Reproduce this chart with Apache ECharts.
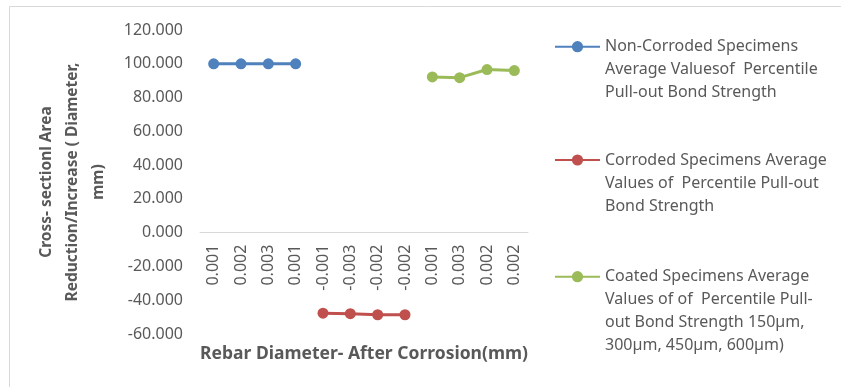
<!DOCTYPE html>
<html>
<head>
    <meta charset="utf-8" />
    <title>Pull-out Bond Strength</title>
    <script src="https://cdn.jsdelivr.net/npm/echarts@6.0.0/dist/echarts.min.js"></script>
    <style>
        * { margin: 0; padding: 0; box-sizing: border-box }
        body { background: #fff }
        #chart { width: 841px; height: 387px }
    </style>
</head>
<body>
    <div id="chart"></div>
    <script>
        const categories = ['0.001', '0.002', '0.003', '0.001', '-0.001', '-0.003', '-0.002', '-0.002', '0.001', '0.003', '0.002', '0.002'];
        const nonCorroded = [100, 100, 100, 100, null, null, null, null, null, null, null, null];
        const corroded = [null, null, null, null, -47.7, -48.0, -48.6, -48.6, null, null, null, null];
        const coated = [null, null, null, null, null, null, null, null, 92.2, 91.8, 96.6, 96.0];
        const names = [
            'Non-Corroded Specimens\nAverage Valuesof  Percentile\nPull-out Bond Strength',
            'Corroded Specimens Average\nValues of  Percentile Pull-out\nBond Strength',
            'Coated Specimens Average\nValues of of  Percentile Pull-\nout Bond Strength 150\u00b5m,\n300\u00b5m, 450\u00b5m, 600\u00b5m)'
        ];
        const colors = ['#4f81bd', '#c0504d', '#9bbb59'];
        const yMin = -60, yMax = 120;

        const FONT = '"Noto Sans", "DejaVu Sans", sans-serif';
        const TXT = '#595959';
        const LH = 23;
        const GRID_TOP = 30, GRID_BOTTOM = 53, H = 387;

        const chart = echarts.init(document.getElementById('chart'));

        // one legend per entry; blank lines in front push the first text line level with the icon
        const legendTops = [46.7, 160, 276.7];
        const legends = names.map(function (n, i) {
            const lines = n.split('\n').length;
            return {
                data: [n],
                orient: 'vertical',
                left: 554,
                top: legendTops[i] - (2 * lines - 1) * LH / 2,
                padding: 0,
                itemWidth: 45,
                itemHeight: 14,
                selectedMode: false,
                formatter: function (name) {
                    return '\n'.repeat(lines - 1) + name;
                },
                textStyle: {
                    color: TXT,
                    fontSize: 16,
                    fontFamily: FONT,
                    lineHeight: LH
                }
            };
        });

        function mkSeries(i, data) {
            return {
                name: names[i],
                type: 'line',
                data: data,
                symbol: 'circle',
                symbolSize: 11,
                lineStyle: { width: 3, color: colors[i] },
                itemStyle: { color: colors[i] },
                connectNulls: false
            };
        }

        // x axis sits on the zero line, labels hanging under it
        const plotH = H - GRID_TOP - GRID_BOTTOM;
        const zeroOffset = -plotH * (0 - yMin) / (yMax - yMin);

        chart.setOption({
            animation: false,
            textStyle: { fontFamily: FONT },
            graphic: [{
                type: 'rect',
                shape: { x: 9.5, y: 6.5, width: 840, height: 400 },
                style: { fill: 'none', stroke: '#d9d9d9', lineWidth: 1 },
                silent: true
            }],
            legend: legends,
            grid: { left: 200, right: 313, top: GRID_TOP, bottom: GRID_BOTTOM, containLabel: false, outerBoundsMode: 'none' },
            xAxis: {
                type: 'category',
                data: categories,
                position: 'bottom',
                offset: zeroOffset,
                axisLine: { onZero: false, lineStyle: { color: '#d9d9d9', width: 1 } },
                axisTick: { show: false },
                axisLabel: {
                    rotate: 90,
                    margin: 12,
                    color: TXT,
                    fontSize: 16,
                    fontFamily: FONT,
                    interval: 0
                },
                name: 'Rebar Diameter- After Corrosion(mm)',
                nameLocation: 'middle',
                nameGap: 112,
                nameTextStyle: { color: TXT, fontSize: 17.5, fontWeight: 'bold', fontFamily: FONT }
            },
            yAxis: {
                type: 'value',
                min: yMin,
                max: yMax,
                interval: 20,
                axisLine: { show: false },
                axisTick: { show: false },
                splitLine: { show: false },
                axisLabel: {
                    margin: 17,
                    color: TXT,
                    fontSize: 16,
                    fontFamily: FONT,
                    formatter: function (v) { return v.toFixed(3); }
                },
                name: 'Cross- sectionl Area\nReduction/Increase ( Diameter,\nmm)',
                nameLocation: 'middle',
                nameGap: 88,
                nameTextStyle: { color: TXT, fontSize: 15.5, fontWeight: 'bold', fontFamily: FONT, lineHeight: 26, align: 'center' }
            },
            series: [
                mkSeries(0, nonCorroded),
                mkSeries(1, corroded),
                mkSeries(2, coated)
            ]
        });
    </script>
</body>
</html>
